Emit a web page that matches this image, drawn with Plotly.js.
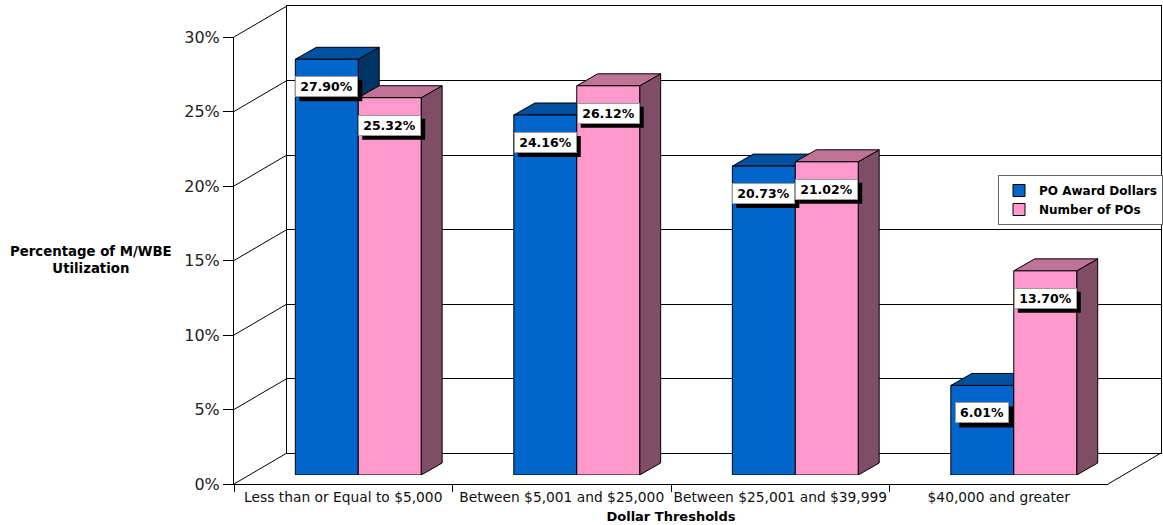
<!DOCTYPE html>
<html><head><meta charset="utf-8">
<script src="https://cdn.plot.ly/plotly-3.0.1.min.js"></script>
<style>html,body{margin:0;padding:0;background:#fff}</style>
</head><body><div id="chart" style="width:1163px;height:525px"></div>
<script>
const categories = ['Less than or Equal to $5,000', 'Between $5,001 and $25,000', 'Between $25,001 and $39,999', '$40,000 and greater'];
const poAwardDollars = [27.90, 24.16, 20.73, 6.01];
const numberOfPOs = [25.32, 26.12, 21.02, 13.70];
const seriesNames = ['PO Award Dollars', 'Number of POs'];
const yTickValues = [0, 5, 10, 15, 20, 25, 30];
const yMax = 30;

// geometry (pixels)
const W = 1163, H = 525;
const M = {l: 234, r: 0, t: 6, b: 41, pad: 0};
const PW = W - M.l - M.r, PH = H - M.t - M.b;
const frontW = 875, frontH = 447;
const depthX = 53, depthY = 31;
const barOffX = 15, barOffY = 9;
const barDepthX = 21, barDepthY = 12;
const bargap = 0.424;

const fx = [0, frontW / PW], fy = [0, frontH / PH];
const bx = [depthX / PW, (depthX + frontW) / PW], by = [depthY / PH, Math.min(1, (depthY + frontH) / PH)];
const px = [barOffX / PW, (barOffX + frontW) / PW], py = [barOffY / PH, (barOffY + frontH) / PH];

const nCat = categories.length;
const idx = categories.map((c, i) => i);
const xRange = [-0.5, nCat - 0.5];

const front = ['#0066CC', '#FF99CC'];
const topC = ['#0050A0', '#C07399'];
const sideC = ['#003366', '#7F4D66'];
const seriesVals = [poAwardDollars, numberOfPOs];

const traces = seriesVals.map((vals, s) => ({
  type: 'bar', x: idx, y: vals, name: seriesNames[s], xaxis: 'x2', yaxis: 'y2',
  marker: {color: front[s], line: {color: '#000', width: 1}},
  hoverinfo: 'skip'
}));
traces.push({type: 'scatter', mode: 'markers', x: idx, y: idx.map(() => 0), xaxis: 'x', yaxis: 'y',
  marker: {opacity: 0}, showlegend: false, hoverinfo: 'skip'});
traces.push({type: 'scatter', mode: 'markers', x: categories, y: categories.map(() => 0), xaxis: 'x3', yaxis: 'y3',
  marker: {opacity: 0}, showlegend: false, hoverinfo: 'skip'});

const shapes = [];
const lineStyle = {color: '#000', width: 1};
yTickValues.forEach(v => {
  shapes.push({type: 'line', xref: 'paper', yref: 'paper', layer: 'below',
    x0: fx[0], y0: fy[0] + v / yMax * (fy[1] - fy[0]),
    x1: bx[0], y1: by[0] + v / yMax * (by[1] - by[0]), line: lineStyle});
});
shapes.push({type: 'line', xref: 'paper', yref: 'paper', layer: 'below',
  x0: fx[1], y0: fy[0], x1: bx[1], y1: by[0], line: lineStyle});

const w = (1 - bargap) / 2;
const ddx = barDepthX * nCat / frontW, ddy = barDepthY * yMax / frontH;
seriesVals.forEach((vals, s) => {
  vals.forEach((v, i) => {
    const L = i - w + s * w, R = L + w;
    shapes.push({type: 'path', xref: 'x2', yref: 'y2', layer: 'below',
      path: `M${R},0 L${R + ddx},${ddy} L${R + ddx},${v + ddy} L${R},${v} Z`,
      fillcolor: sideC[s], line: lineStyle});
    shapes.push({type: 'path', xref: 'x2', yref: 'y2', layer: 'below',
      path: `M${L},${v} L${L + ddx},${v + ddy} L${R + ddx},${v + ddy} L${R},${v} Z`,
      fillcolor: topC[s], line: lineStyle});
  });
});

// data labels: white box with black drop shadow
const labSize = 12.5;
const ctx = document.createElement('canvas').getContext('2d');
ctx.font = `bold ${labSize}px "DejaVu Sans"`;
const annotations = [];
const labGap = 17, shadow = 4, boxTextH = 15, pad = 2, bw = 1;
seriesVals.forEach((vals, s) => {
  vals.forEach((v, i) => {
    const xc = i - w / 2 + s * w;
    const txt = v.toFixed(2) + '%';
    const tw = Math.ceil(ctx.measureText(txt).width) + 4;
    const outerW = tw + 2 * (pad + bw), outerH = boxTextH + 2 * (pad + bw);
    shapes.push({type: 'rect', layer: 'above', xref: 'x2', yref: 'y2',
      xsizemode: 'pixel', ysizemode: 'pixel', xanchor: xc, yanchor: v,
      x0: -outerW / 2 + shadow, x1: outerW / 2 + shadow,
      y0: -labGap - shadow, y1: -labGap - shadow - outerH,
      fillcolor: '#000', line: {width: 0}});
    annotations.push({xref: 'x2', yref: 'y2', x: xc, y: v, yanchor: 'top', xanchor: 'center',
      yshift: -labGap, text: txt, showarrow: false, width: tw, height: boxTextH,
      font: {family: 'DejaVu Sans', size: labSize, weight: 700, color: '#000'},
      bgcolor: '#fff', bordercolor: '#999', borderwidth: bw, borderpad: pad});
  });
});
annotations.push({xref: 'paper', yref: 'paper', x: (90.5 - M.l) / PW, y: (H - M.b - 260) / PH,
  xanchor: 'center', yanchor: 'middle', showarrow: false, align: 'center',
  text: 'Percentage of M/WBE<br>Utilization', font: {family: 'DejaVu Sans', size: 13.3, weight: 700, color: '#000'}});

const layout = {
  width: W, height: H, margin: M,
  paper_bgcolor: '#fff', plot_bgcolor: 'rgba(0,0,0,0)',
  font: {family: 'DejaVu Sans', color: '#000'},
  barmode: 'group', bargap: bargap, bargroupgap: 0,
  showlegend: true,
  xaxis: {domain: bx, anchor: 'y', range: xRange, showgrid: false, zeroline: false, showticklabels: false,
    ticks: '', showline: true, mirror: true, linecolor: '#000', linewidth: 1},
  yaxis: {domain: by, anchor: 'x', range: [0, yMax], tickvals: yTickValues, showgrid: true, gridcolor: '#000',
    gridwidth: 1, zeroline: false, showticklabels: false, ticks: '', showline: true, mirror: true,
    linecolor: '#000', linewidth: 1},
  xaxis2: {domain: px, anchor: 'y2', range: xRange, visible: false},
  yaxis2: {domain: py, anchor: 'x2', range: [0, yMax], visible: false},
  xaxis3: {domain: fx, anchor: 'y3', type: 'category', categoryorder: 'array', categoryarray: categories,
    range: xRange, tickson: 'boundaries', ticks: 'outside', ticklen: 7, tickcolor: '#000', tickwidth: 1,
    showline: true, linecolor: '#000', linewidth: 1, showgrid: false, zeroline: false, tickangle: 0,
    tickfont: {family: 'DejaVu Sans', size: 13.8, color: '#111'},
    title: {text: 'Dollar Thresholds', font: {family: 'DejaVu Sans', size: 13, weight: 700, color: '#000'}, standoff: 8}},
  yaxis3: {domain: fy, anchor: 'x3', range: [0, yMax], tickvals: yTickValues,
    ticktext: yTickValues.map(v => v + '%'), ticks: 'outside', ticklen: 10, tickcolor: '#000', tickwidth: 1,
    showline: true, linecolor: '#000', linewidth: 1, showgrid: false, zeroline: false,
    tickfont: {family: 'DejaVu Sans', size: 16, color: '#222'}},
  legend: {x: (999 - M.l) / PW, xanchor: 'left', y: (H - M.b - 175) / PH, yanchor: 'top',
    bgcolor: '#fff', bordercolor: '#666', borderwidth: 1,
    font: {family: 'DejaVu Sans', size: 12, weight: 700, color: '#000'}, tracegroupgap: 0},
  shapes: shapes,
  annotations: annotations
};

Plotly.newPlot('chart', traces, layout, {displayModeBar: false, staticPlot: true});
</script>
</body></html>
